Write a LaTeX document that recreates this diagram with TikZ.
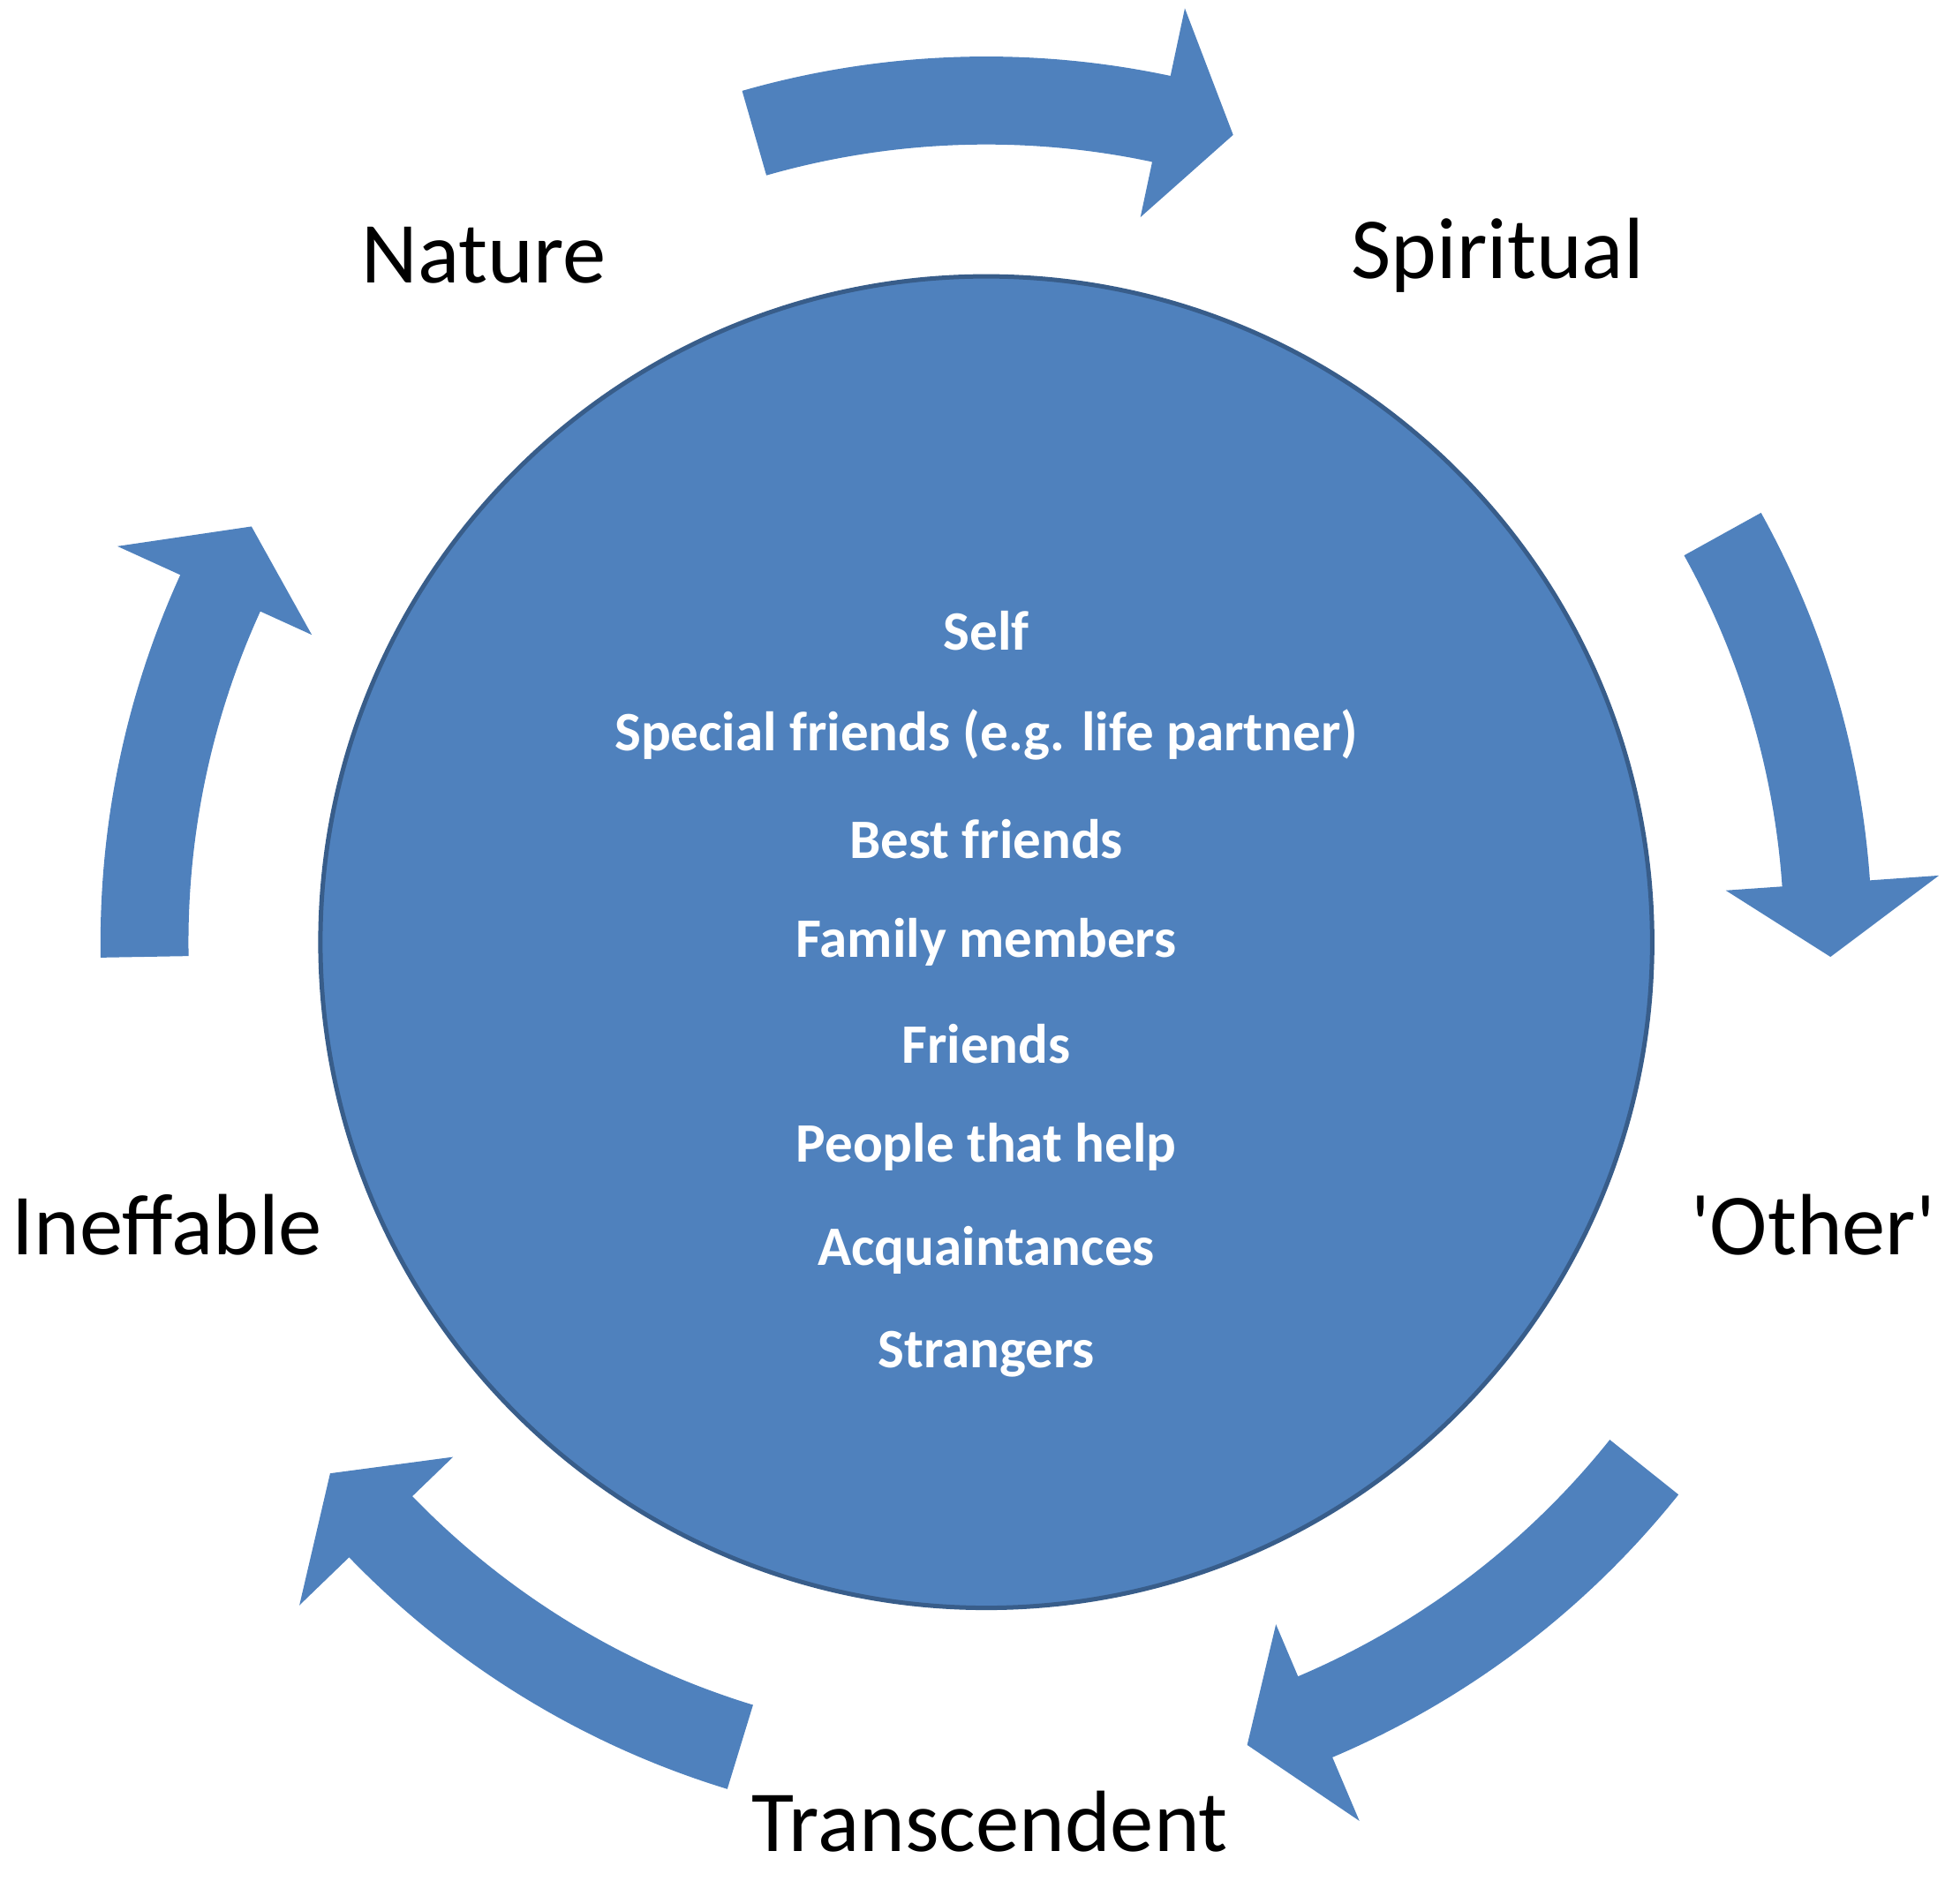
\documentclass[tikz,border=0pt]{standalone}
\usepackage{fontspec}
\setmainfont{Carlito}[Ligatures=TeXOff]
\definecolor{fillb}{HTML}{4F81BD}
\definecolor{edgeb}{HTML}{385D8A}
\newcommand{\cycarrow}[4]{% start, base, tip, name
  \fill[fillb, shift={(C)}] (#1:7.05) arc[start angle=#1, end angle=#2, radius=7.05]
    -- (#2:7.6) -- (#3:6.72) -- (#2:5.9) -- (#2:6.35)
    arc[start angle=#2, end angle=#1, radius=6.35] -- cycle;}
\begin{document}
\begin{tikzpicture}[
  lbl/.style={font=\fontsize{19.7}{23}\selectfont, text=black},
  inner/.style={font=\fontsize{12.6}{15}\selectfont\bfseries, text=white}]
\useasboundingbox (0,0) rectangle (15.6,-14.97);
\coordinate (C) at (7.85,-7.5);
\node[circle, draw=edgeb, line width=1pt, fill=fillb, minimum size=10.6cm, inner sep=0] (circ) at (C) {};
\cycarrow{106}{78}{73}{a1}
\cycarrow{29}{4}{-1}{a2}
\cycarrow{-38.6}{-67}{-72}{a3}
\cycarrow{-107}{-136}{-141}{a4}
\cycarrow{181}{155.5}{150.5}{a5}
\node[lbl] (nat) at (3.85,-2.03) {Nature};
\node[lbl] (spi) at (11.92,-2.03) {Spiritual};
\node[lbl] (oth) at (14.43,-9.75) {'Other'};
\node[lbl] (tra) at (7.88,-14.5) {Transcendent};
\node[lbl] (ine) at (1.33,-9.75) {Ineffable};
\node[inner] (t1) at (7.85,-5.02) {Self};
\node[inner] (t2) at (7.85,-5.85) {Special friends (e.g. life partner)};
\node[inner] (t3) at (7.85,-6.68) {Best friends};
\node[inner] (t4) at (7.85,-7.50) {Family members};
\node[inner] (t5) at (7.85,-8.31) {Friends};
\node[inner] (t6) at (7.85,-9.13) {People that help};
\node[inner] (t7) at (7.85,-9.95) {Acquaintances};
\node[inner] (t8) at (7.85,-10.78) {Strangers};
\end{tikzpicture}
\end{document}
